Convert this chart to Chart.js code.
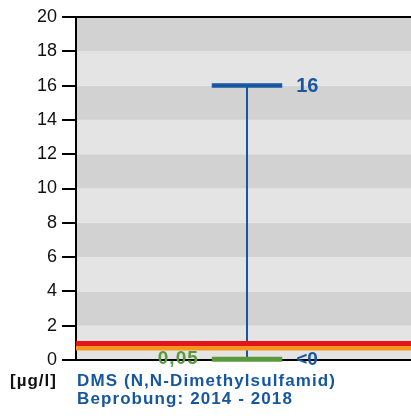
<!DOCTYPE html>
<html>
<head>
<meta charset="utf-8">
<script src="https://cdn.jsdelivr.net/npm/chart.js@4"></script>
<style>
  html, body { margin: 0; padding: 0; background: #fff; overflow: hidden; }
  #wrap { position: relative; width: 411px; height: 416px; overflow: hidden; }
  canvas { position: absolute; left: 0; top: 0; }
  .cap { position: absolute; font: bold 17px "Liberation Sans", Arial, sans-serif; letter-spacing: 1.1px; line-height: 17.5px; white-space: nowrap; }
  #unit  { left: 10px; top: 372px; color: #111; letter-spacing: 1px; }
  #title { left: 77px; top: 372px; color: #1657a0; }
</style>
</head>
<body>
<div id="wrap">
  <canvas id="dmsChart" width="418" height="416"></canvas>
  <div class="cap" id="unit">[µg/l]</div>
  <div class="cap" id="title">DMS (N,N-Dimethylsulfamid)<br>Beprobung: 2014 - 2018</div>
</div>
<script>
/* Messwerte DMS, Beprobung 2014 - 2018 */
const yTicks      = [0, 2, 4, 6, 8, 10, 12, 14, 16, 18, 20];
const maxValue    = [16];      // Maximum
const minValue    = [0];       // untere Grenze der Spannweite
const median      = [0.05];    // Median / Bestimmungsgrenze
const limitRed    = [0.96];    // Grenzwert
const limitOrange = [0.68];    // Warnwert
const maxLabel    = ['16'];
const medLabel    = ['0,05'];
const minLabel    = ['<0'];

const BLUE   = '#1657a0';
const GREEN  = '#5b9a3c';
const CENTER = 0.5;     // single station position on x
const CAP    = 0.103;   // half-width of cap and median bar

const line = (pts, color, width, order) => ({
  data: pts, borderColor: color, borderWidth: width, pointRadius: 0,
  showLine: true, fill: false, order, borderCapStyle: 'butt', clip: false
});

const datasets = [
  line([{ x: 0, y: limitRed[0] },    { x: 1, y: limitRed[0] }],    '#e3141b', 5, 1),
  line([{ x: 0, y: limitOrange[0] }, { x: 1, y: limitOrange[0] }], '#f7941d', 4.5, 2),
  line([{ x: CENTER - CAP, y: median[0] }, { x: CENTER + CAP, y: median[0] }], GREEN, 5, 0),
  line([{ x: CENTER, y: minValue[0] }, { x: CENTER, y: maxValue[0] }], BLUE, 2, 3),
  line([{ x: CENTER - CAP, y: maxValue[0] }, { x: CENTER + CAP, y: maxValue[0] }], BLUE, 4.5, 3)
];

/* alternating grey bands behind the plot */
const bands = {
  id: 'bands',
  beforeDraw(chart) {
    const { ctx, chartArea: a, scales: { y } } = chart;
    ctx.save();
    for (let i = 0; i < yTicks.length - 1; i++) {
      const top = y.getPixelForValue(yTicks[i + 1]);
      const bot = y.getPixelForValue(yTicks[i]);
      ctx.fillStyle = i % 2 === 0 ? '#e4e4e4' : '#d2d2d2';
      ctx.fillRect(a.left, top, a.right - a.left, bot - top);
    }
    ctx.restore();
  }
};

/* value labels next to the marks */
const valueLabels = {
  id: 'valueLabels',
  afterDatasetsDraw(chart) {
    const { ctx, scales: { x, y } } = chart;
    ctx.save();
    ctx.textBaseline = 'middle';
    const right = x.getPixelForValue(CENTER + CAP) + 14;
    const left  = x.getPixelForValue(CENTER - CAP) - 13;
    ctx.fillStyle = BLUE;
    ctx.textAlign = 'left';
    ctx.font = 'bold 20px "Liberation Sans", Arial, sans-serif';
    ctx.fillText(maxLabel[0], right, y.getPixelForValue(maxValue[0]) + 1);
    ctx.font = 'bold 19px "Liberation Sans", Arial, sans-serif';
    ctx.fillText(minLabel[0], right, y.getPixelForValue(minValue[0]));
    ctx.fillStyle = GREEN;
    ctx.textAlign = 'right';
    ctx.letterSpacing = '1px';
    ctx.fillText(medLabel[0], left, y.getPixelForValue(median[0]));
    ctx.restore();
  }
};

new Chart(document.getElementById('dmsChart'), {
  type: 'scatter',
  data: { datasets },
  options: {
    responsive: false,
    animation: false,
    layout: { padding: { top: 17, bottom: 56, left: 0, right: 0 } },
    plugins: { legend: { display: false }, tooltip: { enabled: false } },
    scales: {
      x: { type: 'linear', min: 0, max: 1, display: false },
      y: {
        min: 0, max: 20,
        afterBuildTicks: s => { s.ticks = yTicks.map(v => ({ value: v })); },
        afterFit: s => { s.width = 76; },
        border: { display: true, color: '#000', width: 2 },
        grid: {
          drawOnChartArea: true,
          color: c => (c.tick && (c.tick.value === 0 || c.tick.value === 20)) ? '#000' : 'rgba(0,0,0,0)',
          lineWidth: 2,
          tickColor: '#000',
          tickLength: 14,
          tickWidth: 2
        },
        ticks: {
          color: '#111',
          padding: 5,
          font: { family: '"Liberation Sans", Arial, sans-serif', size: 18 }
        }
      }
    }
  },
  plugins: [bands, valueLabels]
});
</script>
</body>
</html>
